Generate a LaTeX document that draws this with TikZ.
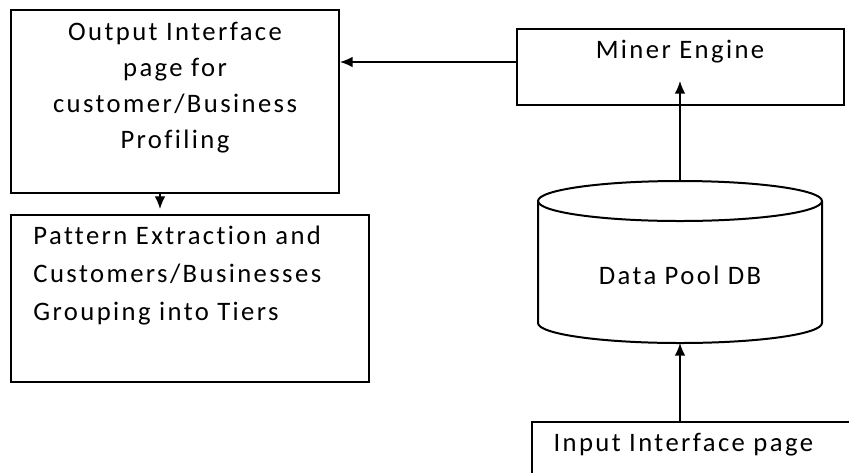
\documentclass[tikz,border=0pt]{standalone}
\usepackage{fontspec}
\setmainfont{Carlito}[LetterSpace=9, Ligatures={NoCommon,NoRare}]
\usetikzlibrary{arrows.meta}

\tikzset{every picture/.style={line width=0.75pt}}
\tikzset{
  box/.style={draw, line width=1.5pt, rectangle, inner sep=0pt},
  txt/.style={inner sep=0pt, font=\fontsize{20}{27}\selectfont},
  arr/.style={line width=1.1pt, -{Latex[length=9.5pt,width=8pt]}}
}

\begin{document}
\begin{tikzpicture}[x=0.75pt,y=0.75pt,yscale=-1,xscale=1]
\useasboundingbox (0,0) rectangle (849,472);
\clip (0,0) rectangle (849,472);

%Shape: Rectangle [out]
\node (out) at (175,101.5) [box, minimum width=246pt, minimum height=137.25pt] {};
%Shape: Rectangle [pattern]
\node (pattern) at (190,298.5) [box, minimum width=268.5pt, minimum height=125.25pt] {};
%Shape: Rectangle [miner]
\node (miner) at (680.5,67) [box, minimum width=245.25pt, minimum height=57pt] {};
%Shape: Rectangle [input]
\node (input) at (531,421) [box, anchor=north west, minimum width=262.5pt, minimum height=60pt] {};

%Shape: Can [db]
\draw [line width=1.5pt] (538,201) -- (538,323) arc [start angle=180, end angle=0, x radius=142, y radius=20] -- (822,201) ;
\draw [line width=1.5pt] (680,201) ellipse [x radius=142, y radius=20] ;
\coordinate (dbtop) at (680,181);
\coordinate (dbbot) at (680,343);

% Text Node
\node (outtext) at (175,22) [txt, anchor=north, align=center] {Output Interface\\page for\\customer/Business\\Profiling};
% Text Node
\node (patterntext) at (33,225) [txt, font=\fontsize{20}{28.5}\selectfont, anchor=north west, align=left] {Pattern Extraction and\\Customers/Businesses\\Grouping into Tiers};
% Text Node
\node (minertext) at (680,52) [txt] {Miner Engine};
% Text Node
\node (db) at (680,275) [txt] {Data Pool DB};
% Text Node
\node (inputtext) at (553,445) [txt, anchor=west] {Input Interface page};

%Straight Lines with arrows
\draw [arr] ([yshift=-3.75pt]miner.west) coordinate (m) -- (out.east |- m) ;
\draw [arr, shorten >=3.75pt] ([xshift=-11.25pt]out.south) -- ([xshift=-22.5pt]pattern.north) ;
\draw [arr, shorten >=-18.75pt] (dbtop) -- (dbtop |- miner.south) ;
\draw [arr] (input.north west -| dbbot) -- (dbbot) ;

\end{tikzpicture}
\end{document}
